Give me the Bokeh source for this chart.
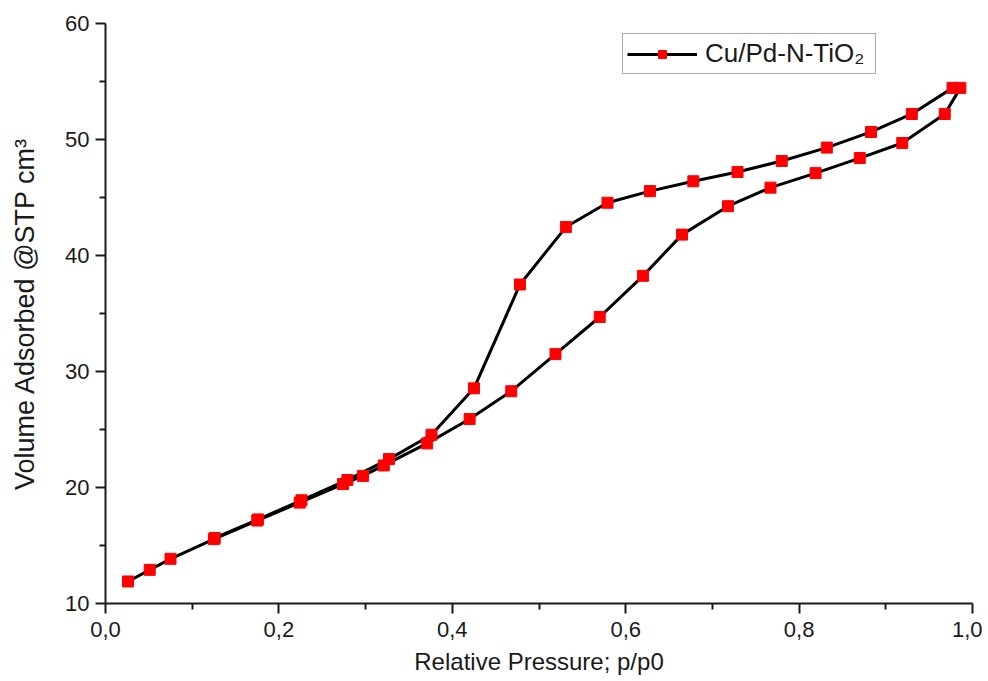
from bokeh.plotting import figure
from bokeh.models import Range1d, FixedTicker, Legend, LegendItem
from bokeh.embed import file_html
from bokeh.resources import INLINE

# Adsorption branch (lower)
ads_p = [0.026, 0.051, 0.075, 0.125, 0.175, 0.224, 0.274, 0.297, 0.321, 0.371,
         0.420, 0.468, 0.519, 0.570, 0.620, 0.665, 0.718, 0.767, 0.819, 0.870,
         0.919, 0.968, 0.986]
ads_v = [11.9, 12.9, 13.85, 15.55, 17.15, 18.7, 20.3, 21.0, 21.9, 23.8,
         25.9, 28.3, 31.5, 34.7, 38.25, 41.8, 44.25, 45.85, 47.1, 48.4,
         49.7, 52.2, 54.45]

# Desorption branch (upper)
des_p = [0.977, 0.930, 0.883, 0.832, 0.780, 0.729, 0.678, 0.628, 0.579, 0.531,
         0.478, 0.425, 0.376, 0.327, 0.279, 0.226, 0.176, 0.126]
des_v = [54.45, 52.2, 50.65, 49.3, 48.15, 47.2, 46.4, 45.55, 44.55, 42.45,
         37.5, 28.55, 24.55, 22.45, 20.65, 18.9, 17.25, 15.65]

x_ticks = [0.0, 0.2, 0.4, 0.6, 0.8, 1.0]
x_tick_labels = ["0,0", "0,2", "0,4", "0,6", "0,8", "1,0"]
y_ticks = [10, 20, 30, 40, 50, 60]

series_label = "Cu/Pd-N-TiO\u2082"

p = figure(frame_width=867, frame_height=580, output_backend="svg",
           toolbar_location=None,
           x_range=Range1d(0, 1.0), y_range=Range1d(10, 60),
           min_border_left=105, min_border_top=23, min_border_right=10,
           min_border_bottom=74)
p.outline_line_color = None
p.grid.visible = False
p.background_fill_color = "white"
p.border_fill_color = "white"

font = "Liberation Sans"
for ax in (p.xaxis[0], p.yaxis[0]):
    ax.axis_line_width = 2
    ax.axis_line_color = "#1a1a1a"
    ax.major_tick_line_width = 2
    ax.minor_tick_line_width = 2
    ax.major_tick_line_color = "#1a1a1a"
    ax.minor_tick_line_color = "#1a1a1a"
    ax.major_tick_out = 10
    ax.major_tick_in = 0
    ax.minor_tick_out = 6
    ax.minor_tick_in = 0
    ax.major_label_text_font = font
    ax.major_label_text_font_size = "22px"
    ax.major_label_text_color = "#1a1a1a"
    ax.axis_label_text_font = font
    ax.axis_label_text_font_style = "normal"
    ax.axis_label_text_color = "#1a1a1a"

p.xaxis.axis_label_text_font_size = "24px"
p.yaxis.axis_label_text_font_size = "27px"
p.xaxis.ticker = FixedTicker(ticks=x_ticks, minor_ticks=[0.1, 0.3, 0.5, 0.7, 0.9])
p.xaxis.major_label_overrides = {t: l for t, l in zip(x_ticks, x_tick_labels)}
p.yaxis.ticker = FixedTicker(ticks=y_ticks, minor_ticks=[15, 25, 35, 45, 55])
p.xaxis.axis_label = "Relative Pressure; p/p0"
p.yaxis.axis_label = "Volume Adsorbed @STP cm\u00b3"
p.xaxis.major_label_standoff = 8
p.yaxis.major_label_standoff = 6
p.xaxis.axis_label_standoff = 8
p.yaxis.axis_label_standoff = 22

l1 = p.line(ads_p, ads_v, line_color="black", line_width=3)
l2 = p.line(des_p, des_v, line_color="black", line_width=3)
s1 = p.scatter(ads_p, ads_v, marker="square", size=11, fill_color="#ff0000",
               line_color="#ff0000")
s2 = p.scatter(des_p, des_v, marker="square", size=11, fill_color="#ff0000",
               line_color="#ff0000")

legend = Legend(items=[LegendItem(label=series_label, renderers=[l1, s1])],
                location=(517, 529))
legend.glyph_width = 70
legend.glyph_height = 20
legend.label_height = 20
legend.label_width = 166
legend.padding = 4
legend.margin = 0
legend.label_standoff = 8
legend.label_text_font = font
legend.label_text_font_size = "26px"
legend.label_text_color = "#1a1a1a"
legend.border_line_color = "#555555"
legend.border_line_width = 1
legend.background_fill_alpha = 1
p.add_layout(legend, "center")

open("out.html", "w").write(file_html(p, INLINE))
